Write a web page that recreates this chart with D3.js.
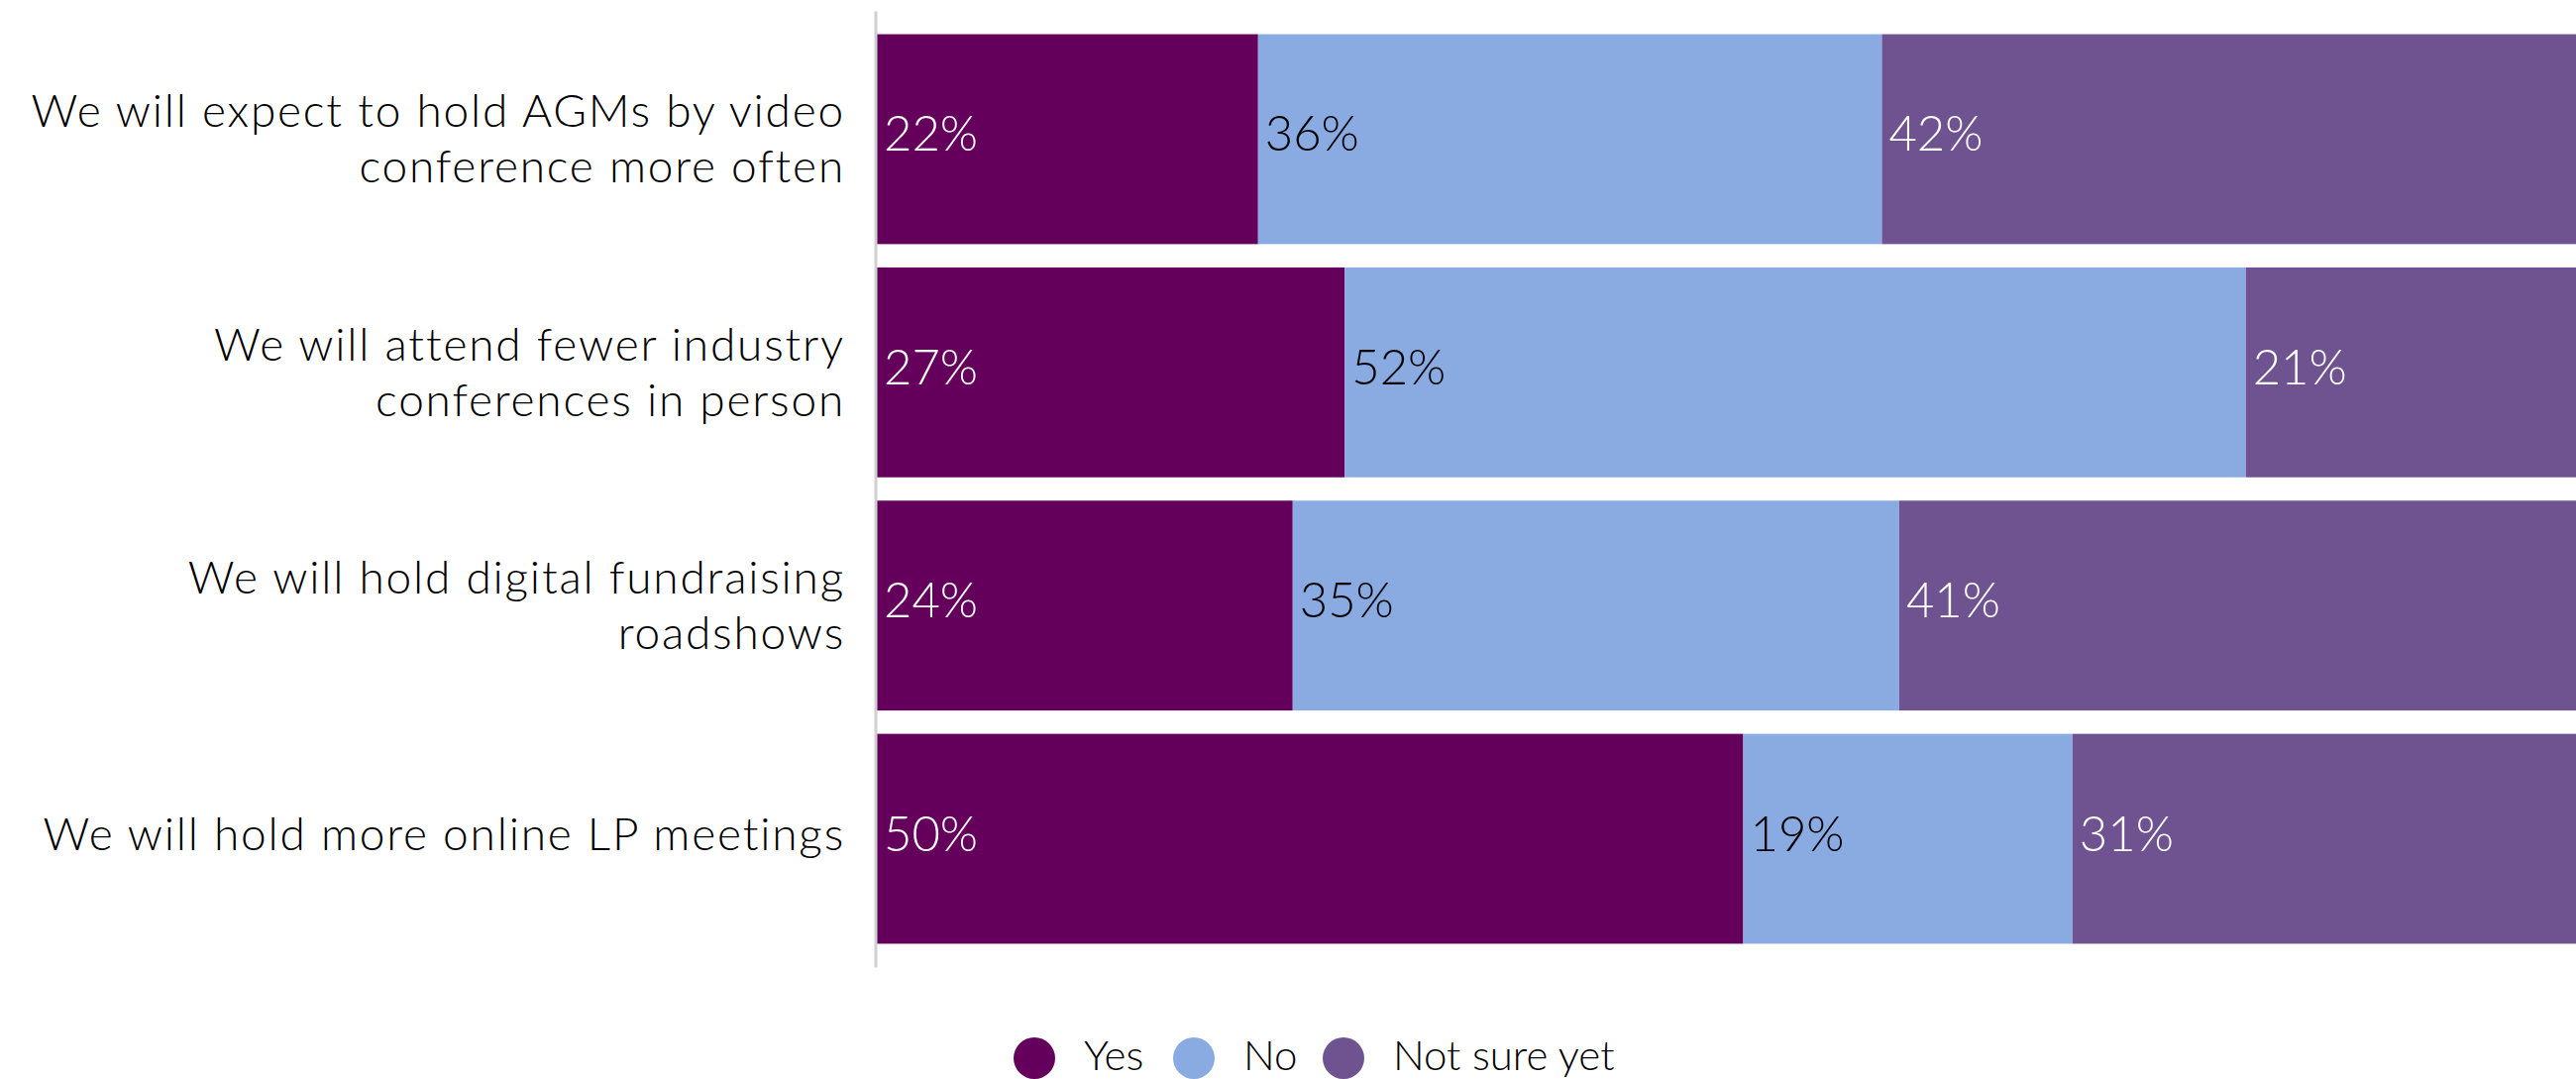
<!DOCTYPE html>
<html>
<head>
<meta charset="utf-8">
<script src="https://cdn.jsdelivr.net/npm/d3@7"></script>
<style>
    body { margin: 0; background: #ffffff; }
    svg { display: block; font-family: Lato, "Open Sans", sans-serif; font-weight: 300; }
</style>
</head>
<body>
<svg id="chart"></svg>
<script>
// chart values
const categories = [
    "We will expect to hold AGMs by video conference more often",
    "We will attend fewer industry conferences in person",
    "We will hold digital fundraising roadshows",
    "We will hold more online LP meetings"
];
// where each category label wraps
const categoryLines = [
    ["We will expect to hold AGMs by video", "conference more often"],
    ["We will attend fewer industry", "conferences in person"],
    ["We will hold digital fundraising", "roadshows"],
    ["We will hold more online LP meetings"]
];
const seriesNames = ["Yes", "No", "Not sure yet"];
const yesValues = [22, 27, 24, 50];
const noValues = [36, 52, 35, 19];
const notSureValues = [42, 21, 41, 31];

const colors = ["#64005c", "#89abe2", "#6f5290"];
const labelColors = ["#ffffff", "#000000", "#ffffff"];

class StackedBars {
    constructor(_config) {
        this.config = { parentElement: _config.parentElement, width: 2600, height: 1089 };
    }

    initVis() {
        let vis = this;

        const width = vis.config.width;
        const height = vis.config.height;

        vis.svg = d3.select(vis.config.parentElement)
            .attr("width", width)
            .attr("height", height);

        // build rows for d3.stack
        const rows = categories.map((c, i) => ({
            category: c,
            "Yes": yesValues[i],
            "No": noValues[i],
            "Not sure yet": notSureValues[i]
        }));
        const stacked = d3.stack().keys(seriesNames)(rows);

        // the 100% end sits a little past the right edge, so bars get clipped there
        const xScale = d3.scaleLinear()
            .domain([0, 100])
            .range([885, 2634]);

        const yScale = d3.scaleBand()
            .domain(categories)
            .range([11, 976])
            .paddingInner(0.1)
            .paddingOuter(0.1);

        // bars
        const layers = vis.svg.selectAll(".layer")
            .data(stacked)
            .join("g")
            .attr("class", "layer")
            .attr("fill", (d, i) => colors[i]);

        layers.selectAll("rect")
            .data(d => d)
            .join("rect")
            .attr("x", d => xScale(d[0]))
            .attr("y", d => yScale(d.data.category))
            .attr("width", d => xScale(d[1]) - xScale(d[0]))
            .attr("height", yScale.bandwidth());

        // value labels, left-aligned at start of each segment
        layers.selectAll("text")
            .data((d, i) => d.map(s => ({ s: s, i: i })))
            .join("text")
            .attr("x", d => xScale(d.s[0]) + 7)
            .attr("y", d => yScale(d.s.data.category) + yScale.bandwidth() / 2 + 12)
            .attr("fill", d => labelColors[d.i])
            .attr("font-size", 49)
            .text(d => (d.s[1] - d.s[0]) + "%");

        // vertical axis line
        const yAxis = d3.axisLeft(yScale).tickSize(0).tickFormat("");
        const axisG = vis.svg.append("g")
            .attr("transform", "translate(883.5,0)")
            .call(yAxis);
        axisG.select(".domain")
            .attr("stroke", "#d0d0d0")
            .attr("stroke-width", 3);

        // category labels, right aligned
        const catLabels = vis.svg.append("g")
            .selectAll("text")
            .data(categories)
            .join("text")
            .attr("text-anchor", "end")
            .attr("font-size", 46)
            .attr("letter-spacing", 1.8)
            .attr("fill", "#000000");

        catLabels.each(function(c, i) {
            const lines = categoryLines[i];
            const cy = yScale(c) + yScale.bandwidth() / 2;
            const start = lines.length === 1 ? cy + 11 : cy - 12;
            d3.select(this).selectAll("tspan")
                .data(lines)
                .join("tspan")
                .attr("x", 853)
                .attr("y", (l, j) => start + j * 56)
                .text(l => l);
        });

        // legend
        const legend = vis.svg.append("g").attr("class", "legend");
        const legendX = [1044, 1205, 1356];
        seriesNames.forEach((name, i) => {
            const g = legend.append("g").attr("transform", "translate(" + legendX[i] + ",1068)");
            g.append("circle").attr("r", 21).attr("fill", colors[i]);
            g.append("text")
                .attr("x", 50)
                .attr("y", 12)
                .attr("font-size", 42)
                .attr("fill", "#000000")
                .text(name);
        });
    }
}

const chart = new StackedBars({ parentElement: "#chart" });
chart.initVis();
</script>
</body>
</html>
